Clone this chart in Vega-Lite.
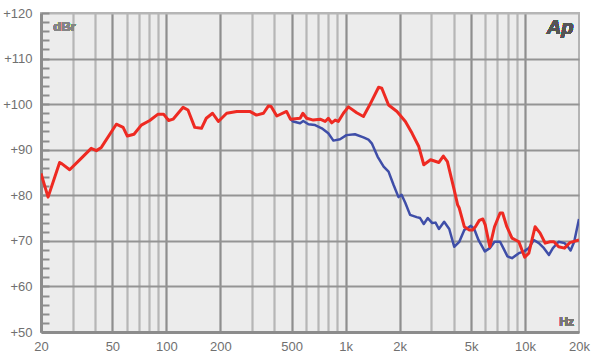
{
  "$schema": "https://vega.github.io/schema/vega-lite/v6.json",
  "width": 538,
  "height": 319,
  "autosize": "none",
  "padding": {"left": 41, "top": 13, "right": 21, "bottom": 30},
  "background": "white",
  "config": {
    "view": {"fill": "#ececec", "stroke": "#b4b4b4", "strokeWidth": 2},
    "font": "Liberation Sans"
  },
  "data": {
    "values": [
      {"s": "b", "f": 492, "db": 96.7}, {"s": "b", "f": 510, "db": 96.2}, {"s": "b", "f": 557, "db": 95.8},
      {"s": "b", "f": 580, "db": 96.3}, {"s": "b", "f": 620, "db": 95.6}, {"s": "b", "f": 675, "db": 95.4},
      {"s": "b", "f": 736, "db": 94.7}, {"s": "b", "f": 800, "db": 93.6}, {"s": "b", "f": 854, "db": 92.0},
      {"s": "b", "f": 930, "db": 92.3}, {"s": "b", "f": 1010, "db": 93.2}, {"s": "b", "f": 1126, "db": 93.4},
      {"s": "b", "f": 1256, "db": 92.7}, {"s": "b", "f": 1340, "db": 92.2}, {"s": "b", "f": 1398, "db": 91.4},
      {"s": "b", "f": 1506, "db": 88.5}, {"s": "b", "f": 1628, "db": 86.3}, {"s": "b", "f": 1734, "db": 85.2},
      {"s": "b", "f": 1848, "db": 82.3}, {"s": "b", "f": 1970, "db": 79.6}, {"s": "b", "f": 2050, "db": 80.1},
      {"s": "b", "f": 2152, "db": 78.3}, {"s": "b", "f": 2286, "db": 75.7}, {"s": "b", "f": 2488, "db": 75.2},
      {"s": "b", "f": 2600, "db": 75.0}, {"s": "b", "f": 2726, "db": 73.7}, {"s": "b", "f": 2870, "db": 75.0},
      {"s": "b", "f": 3040, "db": 73.9}, {"s": "b", "f": 3170, "db": 74.0}, {"s": "b", "f": 3310, "db": 72.6},
      {"s": "b", "f": 3540, "db": 74.2}, {"s": "b", "f": 3780, "db": 72.6}, {"s": "b", "f": 4028, "db": 68.7},
      {"s": "b", "f": 4300, "db": 69.8}, {"s": "b", "f": 4586, "db": 72.4}, {"s": "b", "f": 4790, "db": 72.8},
      {"s": "b", "f": 4990, "db": 73.3}, {"s": "b", "f": 5210, "db": 72.6}, {"s": "b", "f": 5500, "db": 70.2},
      {"s": "b", "f": 5970, "db": 67.7}, {"s": "b", "f": 6360, "db": 68.4}, {"s": "b", "f": 6760, "db": 69.8},
      {"s": "b", "f": 7260, "db": 69.8}, {"s": "b", "f": 7570, "db": 68.4}, {"s": "b", "f": 7980, "db": 66.6},
      {"s": "b", "f": 8460, "db": 66.2}, {"s": "b", "f": 9240, "db": 67.3}, {"s": "b", "f": 9870, "db": 67.7},
      {"s": "b", "f": 10500, "db": 68.4}, {"s": "b", "f": 11200, "db": 70.2}, {"s": "b", "f": 11950, "db": 69.5},
      {"s": "b", "f": 12750, "db": 68.4}, {"s": "b", "f": 13600, "db": 66.9}, {"s": "b", "f": 14300, "db": 68.4},
      {"s": "b", "f": 15400, "db": 69.8}, {"s": "b", "f": 16600, "db": 69.5}, {"s": "b", "f": 17200, "db": 68.9},
      {"s": "b", "f": 17950, "db": 67.9}, {"s": "b", "f": 18800, "db": 69.8}, {"s": "b", "f": 20000, "db": 74.8},

      {"s": "r", "f": 20, "db": 84.8}, {"s": "r", "f": 21.9, "db": 79.6}, {"s": "r", "f": 25.4, "db": 87.2},
      {"s": "r", "f": 26.2, "db": 86.9}, {"s": "r", "f": 28.9, "db": 85.6}, {"s": "r", "f": 33.5, "db": 88.1},
      {"s": "r", "f": 38.1, "db": 90.3}, {"s": "r", "f": 40.7, "db": 89.8}, {"s": "r", "f": 43.4, "db": 90.5},
      {"s": "r", "f": 52.6, "db": 95.6}, {"s": "r", "f": 57.4, "db": 94.9}, {"s": "r", "f": 60.6, "db": 93.0},
      {"s": "r", "f": 66, "db": 93.4}, {"s": "r", "f": 72.5, "db": 95.4}, {"s": "r", "f": 80.8, "db": 96.4},
      {"s": "r", "f": 89.9, "db": 97.8}, {"s": "r", "f": 96.5, "db": 97.8}, {"s": "r", "f": 103, "db": 96.4},
      {"s": "r", "f": 109, "db": 96.7}, {"s": "r", "f": 124, "db": 99.3}, {"s": "r", "f": 132, "db": 98.7},
      {"s": "r", "f": 144, "db": 94.9}, {"s": "r", "f": 157, "db": 94.7}, {"s": "r", "f": 167, "db": 96.9},
      {"s": "r", "f": 181, "db": 98.0}, {"s": "r", "f": 195, "db": 96.2}, {"s": "r", "f": 217, "db": 98.0},
      {"s": "r", "f": 247, "db": 98.4}, {"s": "r", "f": 292, "db": 98.4}, {"s": "r", "f": 318, "db": 97.6},
      {"s": "r", "f": 348, "db": 98.0}, {"s": "r", "f": 371, "db": 99.6}, {"s": "r", "f": 384, "db": 99.5},
      {"s": "r", "f": 413, "db": 97.4}, {"s": "r", "f": 468, "db": 98.4}, {"s": "r", "f": 492, "db": 96.7},
      {"s": "r", "f": 557, "db": 96.9}, {"s": "r", "f": 577, "db": 98.0}, {"s": "r", "f": 606, "db": 96.9},
      {"s": "r", "f": 660, "db": 96.5}, {"s": "r", "f": 720, "db": 96.7}, {"s": "r", "f": 768, "db": 96.2},
      {"s": "r", "f": 800, "db": 96.9}, {"s": "r", "f": 836, "db": 95.9}, {"s": "r", "f": 874, "db": 96.5},
      {"s": "r", "f": 910, "db": 96.2}, {"s": "r", "f": 971, "db": 98.0}, {"s": "r", "f": 1036, "db": 99.4},
      {"s": "r", "f": 1152, "db": 98.1}, {"s": "r", "f": 1256, "db": 97.3}, {"s": "r", "f": 1360, "db": 99.8},
      {"s": "r", "f": 1526, "db": 103.7}, {"s": "r", "f": 1590, "db": 103.5}, {"s": "r", "f": 1734, "db": 99.8},
      {"s": "r", "f": 1932, "db": 98.4}, {"s": "r", "f": 2152, "db": 96.2}, {"s": "r", "f": 2346, "db": 93.6},
      {"s": "r", "f": 2556, "db": 90.7}, {"s": "r", "f": 2726, "db": 86.7}, {"s": "r", "f": 2974, "db": 87.8},
      {"s": "r", "f": 3310, "db": 87.2}, {"s": "r", "f": 3504, "db": 88.6}, {"s": "r", "f": 3692, "db": 87.4},
      {"s": "r", "f": 4028, "db": 81.2}, {"s": "r", "f": 4210, "db": 77.9}, {"s": "r", "f": 4298, "db": 77.2},
      {"s": "r", "f": 4586, "db": 73.1}, {"s": "r", "f": 4894, "db": 72.4}, {"s": "r", "f": 5100, "db": 72.4},
      {"s": "r", "f": 5290, "db": 73.1}, {"s": "r", "f": 5560, "db": 74.5}, {"s": "r", "f": 5820, "db": 74.8},
      {"s": "r", "f": 6000, "db": 73.5}, {"s": "r", "f": 6360, "db": 68.7}, {"s": "r", "f": 6760, "db": 73.1},
      {"s": "r", "f": 7260, "db": 76.1}, {"s": "r", "f": 7500, "db": 76.1}, {"s": "r", "f": 7920, "db": 73.1},
      {"s": "r", "f": 8460, "db": 70.6}, {"s": "r", "f": 9240, "db": 69.8}, {"s": "r", "f": 9960, "db": 66.4},
      {"s": "r", "f": 10500, "db": 67.3}, {"s": "r", "f": 11380, "db": 73.1}, {"s": "r", "f": 12140, "db": 71.7},
      {"s": "r", "f": 12950, "db": 69.5}, {"s": "r", "f": 13800, "db": 69.8}, {"s": "r", "f": 14500, "db": 69.8},
      {"s": "r", "f": 15400, "db": 68.7}, {"s": "r", "f": 16600, "db": 68.4}, {"s": "r", "f": 17760, "db": 69.6},
      {"s": "r", "f": 20000, "db": 70.2}
    ]
  },
  "encoding": {
    "x": {
      "field": "f", "type": "quantitative",
      "scale": {"type": "log", "domain": [20, 20000]},
      "axis": {
        "title": null,
        "values": [20, 30, 40, 50, 60, 70, 80, 90, 100, 200, 300, 400, 500, 600, 700, 800, 900, 1000, 2000, 3000, 4000, 5000, 6000, 7000, 8000, 9000, 10000, 20000],
        "labelExpr": "indexof([20,50,100,200,500], datum.value) >= 0 ? datum.value + '' : (indexof([1000,2000,5000,10000,20000], datum.value) >= 0 ? (datum.value / 1000) + 'k' : '')",
        "ticks": false,
        "domainColor": "#8c8c8c",
        "domainWidth": 3,
        "labelColor": "#707070",
        "labelFontSize": 13,
        "labelPadding": 8,
        "labelFlush": false,
        "labelOverlap": false,
        "gridColor": {"condition": {"test": "indexof([50,100,200,500,1000,2000,5000,10000], datum.value) >= 0", "value": "#8e8e8e"}, "value": "#b6b6b6"},
        "gridOpacity": {"condition": {"test": "datum.value === 20000 || datum.value === 20", "value": 0}, "value": 1},
        "gridWidth": 2.2
      }
    },
    "y": {
      "field": "db", "type": "quantitative",
      "scale": {"domain": [50, 120], "nice": false, "zero": false},
      "axis": {
        "title": null,
        "values": [50, 52, 54, 56, 58, 60, 62, 64, 66, 68, 70, 72, 74, 76, 78, 80, 82, 84, 86, 88, 90, 92, 94, 96, 98, 100, 102, 104, 106, 108, 110, 112, 114, 116, 118, 120],
        "labelExpr": "datum.value % 10 === 0 ? '+' + datum.value : ''",
        "tickSize": -8,
        "tickColor": "#8c8c8c",
        "tickWidth": 2,
        "domainColor": "#8c8c8c",
        "domainWidth": 3,
        "labelColor": "#707070",
        "labelFontSize": 13,
        "labelPadding": 17,
        "labelFlush": false,
        "labelOverlap": false,
        "gridColor": {"condition": {"test": "datum.value === 120", "value": "#b6b6b6"}, "value": "#949494"},
        "gridOpacity": {"condition": {"test": "datum.value % 10 === 0 && datum.value > 50", "value": 1}, "value": 0},
        "gridWidth": 2.2
      }
    }
  },
  "layer": [
    {
      "transform": [{"filter": "datum.s === 'b'"}],
      "mark": {"type": "line", "color": "#3f4ea8", "strokeWidth": 2.5, "strokeJoin": "round", "clip": true}
    },
    {
      "transform": [{"filter": "datum.s === 'r'"}],
      "mark": {"type": "line", "color": "#ee2a22", "strokeWidth": 3, "strokeJoin": "round", "clip": true}
    },
    {
      "mark": {"type": "text", "text": "dBr", "font": "Liberation Sans", "fontWeight": "bold", "fontSize": 13, "color": "#858585", "align": "center", "baseline": "middle"},
      "encoding": {"x": {"datum": 27}, "y": {"datum": 116.9}}
    },
    {
      "mark": {"type": "text", "text": "Ap", "font": "Liberation Sans", "fontWeight": "bold", "fontStyle": "italic", "fontSize": 20, "color": "#555555", "align": "center", "baseline": "middle"},
      "encoding": {"x": {"datum": 15700}, "y": {"datum": 116.6}}
    },
    {
      "mark": {"type": "text", "text": "Hz", "font": "Liberation Sans", "fontWeight": "bold", "fontSize": 12, "color": "#777777", "align": "center", "baseline": "middle"},
      "encoding": {"x": {"datum": 17060}, "y": {"datum": 52.2}}
    }
  ]
}
